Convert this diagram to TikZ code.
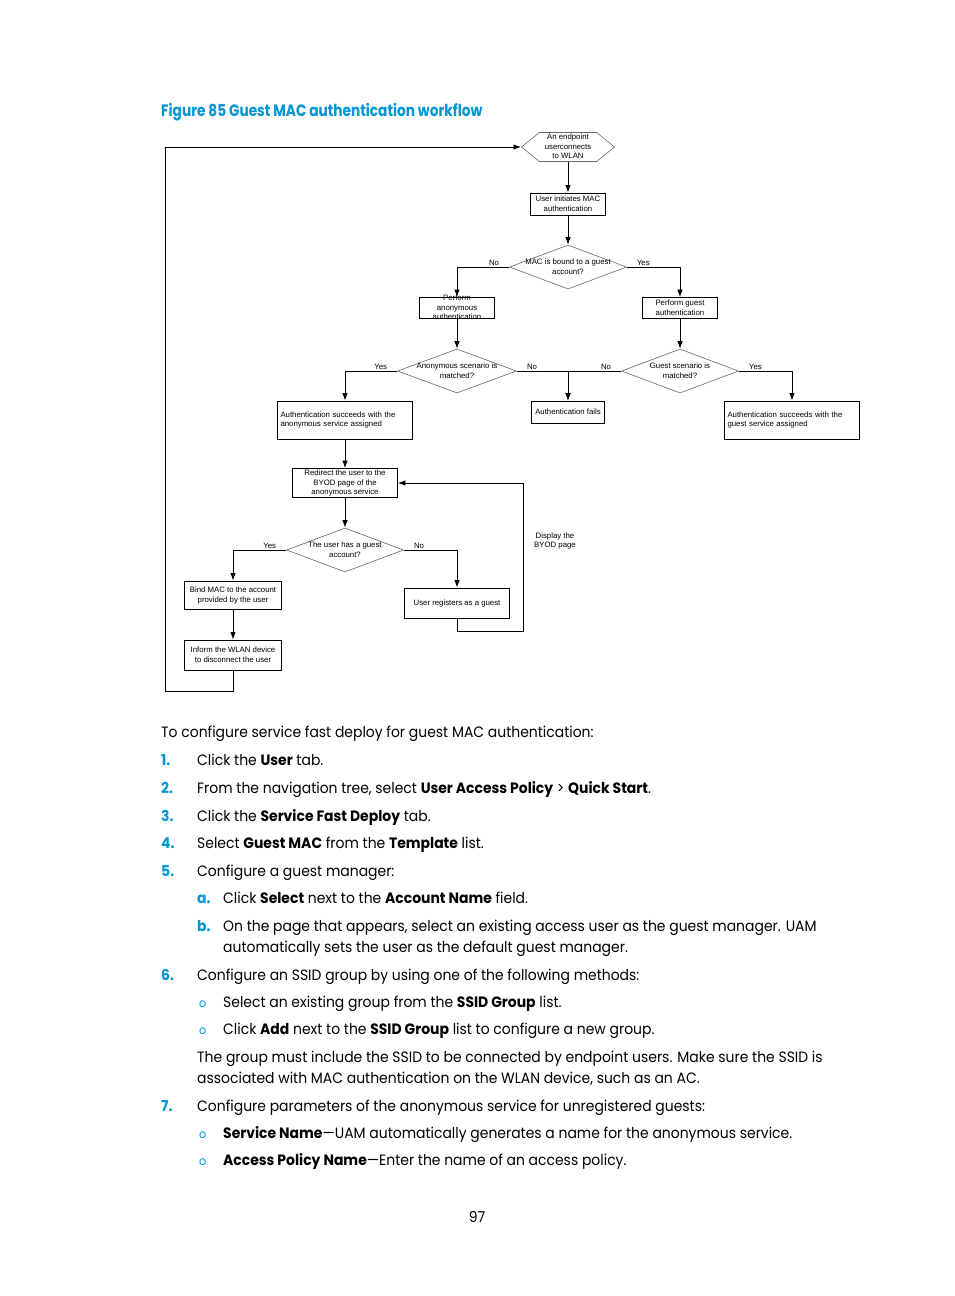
\documentclass[tikz,border=0pt]{standalone}
\usepackage{fontspec}
\setmainfont{Poppins}[FakeStretch=0.93]
\newfontfamily\capfont{Poppins}[FakeStretch=0.83]
\newfontfamily\flowfont{Liberation Sans}
\usetikzlibrary{arrows.meta,positioning,shapes.geometric,shapes.symbols}
\definecolor{CapClr}{RGB}{0,150,214}
\definecolor{DiaClr}{RGB}{105,105,105}
\newcommand{\flowtxt}[1]{\makebox[0pt]{\smash{\raisebox{-2.2pt}{\begin{tabular}[c]{@{}c@{}}#1\end{tabular}}}}}

\tikzset{
  fbox/.style={draw=black,line width=0.8pt,inner sep=0pt,font=\flowfont\fontsize{7.8}{9.8}\selectfont},
  sbox/.style={draw=black,line width=0.8pt,inner sep=3pt,text width=129pt,align=left,minimum height=38pt,font=\flowfont\fontsize{7.8}{9.8}\selectfont},
  decide/.style={diamond,draw=DiaClr,line width=0.6pt,inner sep=0pt,minimum width=117pt,minimum height=44pt,font=\flowfont\fontsize{7.8}{9.8}\selectfont},
  hexa/.style={signal,signal to=west and east,signal pointer angle=78,draw=DiaClr,line width=0.6pt,inner sep=0pt,minimum width=93pt,minimum height=29pt,font=\flowfont\fontsize{7.8}{9.8}\selectfont},
  lbl/.style={inner sep=0pt,font=\flowfont\fontsize{7.8}{9.8}\selectfont},
  flow/.style={-{Latex[length=7.5pt,width=5.5pt]},line width=0.9pt},
  txt/.style={anchor=base west,inner sep=0pt,font=\fontsize{15}{18}\selectfont},
  num/.style={txt,text=CapClr,font=\fontsize{15}{18}\selectfont\bfseries},
  bul/.style={anchor=base west,inner sep=0pt,text=CapClr,font=\fontsize{12}{14}\selectfont}
}

\begin{document}
\begin{tikzpicture}[x=1pt,y=-1pt]
\useasboundingbox[fill=white] (0,0) rectangle (954,1296);

% caption
\node[anchor=base west,inner sep=0pt,text=CapClr,font=\capfont\fontsize{16.5}{20}\selectfont\bfseries] (cap) at (161,116) {Figure 85 Guest MAC authentication workflow};

% flow chart
\node[hexa] (start) at (568,147) {\flowtxt{An endpoint\\userconnects\\to WLAN}};
\node[fbox,minimum width=75pt,minimum height=22pt] (init) at (568,204) {\flowtxt{User initiates MAC\\authentication}};
\node[decide] (mac) at (568,267) {\flowtxt{MAC is bound to a guest\\account?}};
\node[fbox,minimum width=75pt,minimum height=21pt] (anon) at (457,308) {\flowtxt{Perform\\anonymous\\authentication}};
\node[fbox,minimum width=75pt,minimum height=21pt] (guest) at (680,308) {\flowtxt{Perform guest\\authentication}};
\node[decide,minimum width=119pt] (anonq) at (457,371) {\flowtxt{Anonymous scenario is\\matched?}};
\node[decide] (guestq) at (680,371) {\flowtxt{Guest scenario is\\matched?}};
\node[sbox] (succA) at (345,420) {Authentication succeeds with the\\anonymous service assigned};
\node[fbox,minimum width=73pt,minimum height=22pt] (fail) at (568,412) {\flowtxt{Authentication fails}};
\node[sbox] (succG) at (792,420) {Authentication succeeds with the\\guest service assigned};
\node[fbox,minimum width=105pt,minimum height=29pt] (redir) at (345,483) {\flowtxt{Redirect the user to the\\BYOD page of the\\anonymous service}};
\node[decide] (hasq) at (345,550) {\flowtxt{The user has a guest\\account?}};
\node[fbox,minimum width=97pt,minimum height=28pt] (bind) at (233,595) {\flowtxt{Bind MAC to the account\\provided by the user}};
\node[fbox,minimum width=105pt,minimum height=30pt] (reg) at (457,603) {\flowtxt{User registers as a guest}};
\node[fbox,minimum width=97pt,minimum height=30pt] (inform) at (233,655) {\flowtxt{Inform the WLAN device\\to disconnect the user}};
\node[lbl,align=center] (byod) at (555,541) {Display the\\BYOD page};
\coordinate (back) at (523,631);
\coordinate (loop) at (165,691);

% branch labels
\node[lbl,above left=1pt and 10pt of mac.west] (macno) {No};
\node[lbl,above right=1pt and 10pt of mac.east] (macyes) {Yes};
\node[lbl,above left=1pt and 10pt of anonq.west] (anonyes) {Yes};
\node[lbl,above right=1pt and 10pt of anonq.east] (anonno) {No};
\node[lbl,above left=1pt and 10pt of guestq.west] (guestno) {No};
\node[lbl,above right=1pt and 10pt of guestq.east] (guestyes) {Yes};
\node[lbl,above left=1pt and 10pt of hasq.west] (hasyes) {Yes};
\node[lbl,above right=1pt and 10pt of hasq.east] (hasno) {No};

% connectors
\draw[flow] (start) -- (init);
\draw[flow] (init) -- (mac);
\draw[flow] (mac.west) -| (anon);
\draw[flow] (mac.east) -| (guest);
\draw[flow] (anon) -- (anonq);
\draw[flow] (guest) -- (guestq);
\draw[flow] (anonq.west) -| (succA);
\draw[flow] (anonq.east) -| (fail);
\draw[flow] (guestq.west) -| (fail);
\draw[flow] (guestq.east) -| (succG);
\draw[flow] (succA) -- (redir);
\draw[flow] (redir) -- (hasq);
\draw[flow] (hasq.west) -| (bind);
\draw[flow] (hasq.east) -| (reg);
\draw[flow] (bind) -- (inform);
\draw[flow] (reg.south) |- (back) |- (redir.east);
\draw[flow] (inform.south) |- (loop) |- (start.west);

% steps
\node[txt] (intro) at (161,737) {To configure service fast deploy for guest MAC authentication:};
\node[num] (n1) at (161,765) {1.};
\node[txt] (s1) at (197,765) {Click the \textbf{User} tab.};
\node[num] (n2) at (161,793) {2.};
\node[txt] (s2) at (197,793) {From the navigation tree, select \textbf{User Access Policy} > \textbf{Quick Start}.};
\node[num] (n3) at (161,821) {3.};
\node[txt] (s3) at (197,821) {Click the \textbf{Service Fast Deploy} tab.};
\node[num] (n4) at (161,848) {4.};
\node[txt] (s4) at (197,848) {Select \textbf{Guest MAC} from the \textbf{Template} list.};
\node[num] (n5) at (161,876) {5.};
\node[txt] (s5) at (197,876) {Configure a guest manager:};
\node[num] (na) at (197,903) {a.};
\node[txt] (sa) at (223,903) {Click \textbf{Select} next to the \textbf{Account Name} field.};
\node[num] (nb) at (197,931) {b.};
\node[txt] (sb) at (223,931) {On the page that appears, select an existing access user as the guest manager. UAM};
\node[txt] (sb2) at (223,952) {automatically sets the user as the default guest manager.};
\node[num] (n6) at (161,980) {6.};
\node[txt] (s6) at (197,980) {Configure an SSID group by using one of the following methods:};
\node[bul] (b1) at (199,1007) {o};
\node[txt] (t1) at (223,1007) {Select an existing group from the \textbf{SSID Group} list.};
\node[bul] (b2) at (199,1034) {o};
\node[txt] (t2) at (223,1034) {Click \textbf{Add} next to the \textbf{SSID Group} list to configure a new group.};
\node[txt] (p1) at (197,1062) {The group must include the SSID to be connected by endpoint users. Make sure the SSID is};
\node[txt] (p2) at (197,1083) {associated with MAC authentication on the WLAN device, such as an AC.};
\node[num] (n7) at (161,1111) {7.};
\node[txt] (s7) at (197,1111) {Configure parameters of the anonymous service for unregistered guests:};
\node[bul] (b3) at (199,1138) {o};
\node[txt] (t3) at (223,1138) {\textbf{Service Name}---UAM automatically generates a name for the anonymous service.};
\node[bul] (b4) at (199,1165) {o};
\node[txt] (t4) at (223,1165) {\textbf{Access Policy Name}---Enter the name of an access policy.};

\node[txt,anchor=base] (page) at (477,1222) {97};
\end{tikzpicture}
\end{document}
